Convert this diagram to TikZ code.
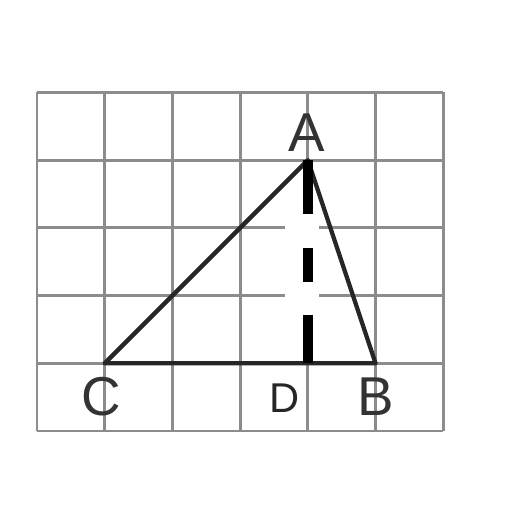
\documentclass[tikz,border=0pt]{standalone}
\usepackage{fontspec}
\setmainfont{Liberation Sans}
\begin{document}
\begin{tikzpicture}[x=1cm,y=1cm,
  gridline/.style={draw=black!45,line width=1.2pt},
  side/.style={draw=black!85,line width=1.8pt,line cap=round,line join=round},
  height/.style={draw=black,line width=4.4pt,dash pattern=on 0.8cm off 0.5cm on 0.5cm off 0.49cm on 0.8cm},
  lbl/.style={inner sep=0pt,font=\fontsize{23}{23}\selectfont,text=black!80},
  lbls/.style={inner sep=0pt,font=\fontsize{17.5}{17.5}\selectfont,text=black!85}]
\useasboundingbox (-0.547,-1.196) rectangle (7.016,6.366);
\fill[white] (-0.547,-1.196) rectangle (7.016,6.366);
\draw[gridline] (0,0) grid (6,5);
\coordinate (A) at (4,4);
\coordinate (B) at (5,1);
\coordinate (C) at (1,1);
\coordinate (D) at (4,1);
\fill[white] (3.67,1.12) rectangle (4.16,3.88);
\draw[side] (C) -- (A) -- (B) -- (C);
\draw[height] (A) -- (D);
\node[lbl] (la) at (3.99,4.40) {A};
\node[lbl] (lc) at (0.95,0.50) {C};
\node[lbls] (ld) at (3.66,0.49) {D};
\node[lbl] (lb) at (5.01,0.50) {B};
\end{tikzpicture}
\end{document}
